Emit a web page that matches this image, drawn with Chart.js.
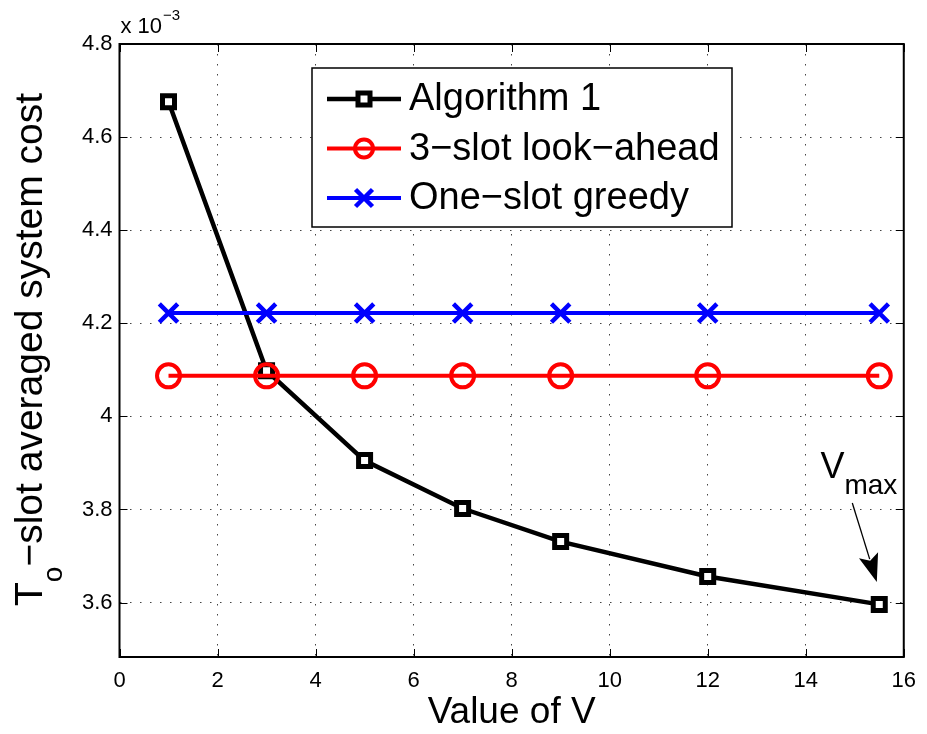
<!DOCTYPE html>
<html>
<head>
<meta charset="utf-8">
<script src="https://cdn.jsdelivr.net/npm/chart.js@4/dist/chart.umd.min.js"></script>
<style>
html,body{margin:0;padding:0;background:#fff;}
#wrap{width:927px;height:734px;}
</style>
</head>
<body>
<div id="wrap"><canvas id="c" width="927" height="734"></canvas></div>
<script>
// ---- data (y values in units of 1e-3) ----
const vValues = [1, 3, 5, 7, 9, 12, 15.5];
const costAlgorithm1 = [4.676, 4.098, 3.905, 3.802, 3.731, 3.656, 3.596];
const costLookAhead = [4.087, 4.087, 4.087, 4.087, 4.087, 4.087, 4.087];
const costGreedy = [4.222, 4.222, 4.222, 4.222, 4.222, 4.222, 4.222];
const seriesNames = ['Algorithm 1', '3\u2212slot look\u2212ahead', 'One\u2212slot greedy'];
const xTickValues = [0, 2, 4, 6, 8, 10, 12, 14, 16];
const yTickValues = [3.6, 3.8, 4.0, 4.2, 4.4, 4.6, 4.8];
// annotation anchor (data coordinates)
const vmaxLabelAt = {x: 14.3, y: 3.867};
const vmaxArrowFrom = {x: 14.95, y: 3.814};
const vmaxArrowTo = {x: 15.45, y: 3.644};

const FONT = "'Liberation Sans', Arial, Helvetica, sans-serif";
Chart.defaults.font.family = FONT;
Chart.defaults.color = '#000';

const pts = arr => vValues.map((v, i) => ({x: v, y: arr[i]}));

function drawMarker(ctx, style, x, y, r, color, lw, fill) {
  ctx.save();
  ctx.strokeStyle = color;
  ctx.lineWidth = lw;
  ctx.beginPath();
  if (style === 'rect') {
    const s = r / Math.SQRT2;
    ctx.rect(x - s, y - s, 2 * s, 2 * s);
    if (fill) { ctx.fillStyle = fill; ctx.fill(); }
    ctx.stroke();
  } else if (style === 'circle') {
    ctx.arc(x, y, r, 0, Math.PI * 2);
    ctx.stroke();
  } else if (style === 'crossRot') {
    const d = r * Math.SQRT1_2;
    ctx.moveTo(x - d, y - d); ctx.lineTo(x + d, y + d);
    ctx.moveTo(x - d, y + d); ctx.lineTo(x + d, y - d);
    ctx.stroke();
  }
  ctx.restore();
}

const decor = {
  id: 'decor',
  beforeDraw(chart) {
    const ctx = chart.ctx;
    ctx.save();
    ctx.fillStyle = '#fff';
    ctx.fillRect(0, 0, chart.width, chart.height);
    ctx.restore();
  },
  afterDraw(chart) {
    const ctx = chart.ctx;
    const a = chart.chartArea;
    const xs = chart.scales.x, ys = chart.scales.y;
    ctx.save();
    // inward tick marks on all four sides
    ctx.strokeStyle = '#000';
    ctx.lineWidth = 1;
    const tl = 8;
    ctx.beginPath();
    xTickValues.forEach(v => {
      const px = Math.round(xs.getPixelForValue(v)) + 0.5;
      ctx.moveTo(px, a.bottom); ctx.lineTo(px, a.bottom - tl);
      ctx.moveTo(px, a.top); ctx.lineTo(px, a.top + tl);
    });
    yTickValues.forEach(v => {
      const py = Math.round(ys.getPixelForValue(v)) + 0.5;
      ctx.moveTo(a.left, py); ctx.lineTo(a.left + tl, py);
      ctx.moveTo(a.right, py); ctx.lineTo(a.right - tl, py);
    });
    ctx.stroke();
    // frame
    ctx.lineWidth = 2;
    ctx.strokeRect(a.left, a.top, a.right - a.left, a.bottom - a.top);

    // multiplier
    ctx.fillStyle = '#000';
    ctx.textAlign = 'left';
    ctx.textBaseline = 'alphabetic';
    ctx.font = '22px ' + FONT;
    ctx.fillText('x 10', a.left + 1, 33);
    const w10 = ctx.measureText('x 10').width;
    ctx.font = '15px ' + FONT;
    ctx.fillText('\u22123', a.left + 1 + w10 + 1, 20);

    // x title
    ctx.font = '37px ' + FONT;
    ctx.textAlign = 'center';
    ctx.fillText('Value of V', (a.left + a.right) / 2, 723);

    // y title with subscript
    ctx.save();
    ctx.translate(42, 606);
    ctx.rotate(-Math.PI / 2);
    ctx.textAlign = 'left';
    ctx.font = '39px ' + FONT;
    ctx.fillText('T', 0, 0);
    let off = ctx.measureText('T').width;
    ctx.font = '28px ' + FONT;
    ctx.fillText('o', off, 20);
    off += ctx.measureText('o').width;
    ctx.font = '39px ' + FONT;
    ctx.fillText('\u2212slot averaged system cost', off, 0);
    ctx.restore();

    // V_max annotation
    const lx = xs.getPixelForValue(vmaxLabelAt.x), ly = ys.getPixelForValue(vmaxLabelAt.y);
    ctx.textAlign = 'left';
    ctx.font = '36px ' + FONT;
    ctx.fillText('V', lx, ly);
    const vw = ctx.measureText('V').width;
    ctx.font = '28px ' + FONT;
    ctx.fillText('max', lx + vw, ly + 16);
    const x0 = xs.getPixelForValue(vmaxArrowFrom.x), y0 = ys.getPixelForValue(vmaxArrowFrom.y);
    const x1 = xs.getPixelForValue(vmaxArrowTo.x), y1 = ys.getPixelForValue(vmaxArrowTo.y);
    const ang = Math.atan2(y1 - y0, x1 - x0);
    const hl = 28, hw = 10;
    const bx = x1 - hl * Math.cos(ang), by = y1 - hl * Math.sin(ang);
    ctx.strokeStyle = '#000';
    ctx.lineWidth = 1.3;
    ctx.beginPath(); ctx.moveTo(x0, y0); ctx.lineTo(bx + 4 * Math.cos(ang), by + 4 * Math.sin(ang)); ctx.stroke();
    ctx.beginPath();
    ctx.moveTo(x1, y1);
    ctx.lineTo(bx + hw * Math.sin(ang), by - hw * Math.cos(ang));
    ctx.lineTo(x1 - (hl * 0.8) * Math.cos(ang), y1 - (hl * 0.8) * Math.sin(ang));
    ctx.lineTo(bx - hw * Math.sin(ang), by + hw * Math.cos(ang));
    ctx.closePath();
    ctx.fillStyle = '#000';
    ctx.fill();

    // legend
    const L = {left: 312, top: 68, right: 732, bottom: 227};
    ctx.fillStyle = '#fff';
    ctx.fillRect(L.left, L.top, L.right - L.left, L.bottom - L.top);
    ctx.strokeStyle = '#000';
    ctx.lineWidth = 1.5;
    ctx.strokeRect(L.left, L.top, L.right - L.left, L.bottom - L.top);
    const rows = [99, 148.5, 198];
    const legR = [8.5, 9, 12];
    chart.data.datasets.forEach((ds, i) => {
      const y = rows[i];
      ctx.strokeStyle = ds.borderColor;
      ctx.lineWidth = ds.borderWidth;
      ctx.beginPath(); ctx.moveTo(327, y); ctx.lineTo(401, y); ctx.stroke();
      drawMarker(ctx, ds.pointStyle, 364, y, legR[i], ds.borderColor, ds.pointBorderWidth,
                 ds.pointStyle === 'rect' ? '#fff' : null);
      ctx.fillStyle = '#000';
      ctx.font = '38px ' + FONT;
      ctx.textAlign = 'left';
      ctx.textBaseline = 'middle';
      ctx.fillText(ds.label, 409, y + 1);
    });
    ctx.restore();
  }
};

new Chart(document.getElementById('c'), {
  type: 'line',
  data: {
    datasets: [
      {label: seriesNames[0], data: pts(costAlgorithm1), borderColor: '#000', borderWidth: 4.5,
       pointStyle: 'rect', pointRadius: 8.5, pointBorderWidth: 5, pointBackgroundColor: '#fff',
       pointBorderColor: '#000', order: 3, tension: 0},
      {label: seriesNames[1], data: pts(costLookAhead), borderColor: '#ff0000', borderWidth: 4,
       pointStyle: 'circle', pointRadius: 11.5, pointBorderWidth: 4, pointBackgroundColor: 'rgba(0,0,0,0)',
       pointBorderColor: '#ff0000', order: 2, tension: 0},
      {label: seriesNames[2], data: pts(costGreedy), borderColor: '#0000ff', borderWidth: 4,
       pointStyle: 'crossRot', pointRadius: 13, pointBorderWidth: 4.5,
       pointBorderColor: '#0000ff', order: 1, tension: 0}
    ]
  },
  options: {
    responsive: false,
    animation: false,
    events: [],
    layout: {padding: {left: 0, top: 44, right: 18, bottom: 0}},
    plugins: {legend: {display: false}, tooltip: {enabled: false}, title: {display: false}},
    scales: {
      x: {
        type: 'linear', min: 0, max: 16,
        afterBuildTicks: s => { s.ticks = xTickValues.map(v => ({value: v})); },
        afterFit: s => { s.height = 77; },
        ticks: {font: {size: 22}, padding: 11, maxRotation: 0, autoSkip: false,
                callback: v => String(v)},
        grid: {color: '#444', lineWidth: 1, drawTicks: false},
        border: {display: false, dash: [1.5, 8.5]}
      },
      y: {
        type: 'linear', min: 3.483, max: 4.8,
        afterBuildTicks: s => { s.ticks = yTickValues.map(v => ({value: v})); },
        afterFit: s => { s.width = 119.5; },
        ticks: {font: {size: 22}, padding: 7, autoSkip: false,
                callback: v => String(Number(v.toFixed(1)))},
        grid: {color: '#444', lineWidth: 1, drawTicks: false},
        border: {display: false, dash: [1.5, 8.5]}
      }
    }
  },
  plugins: [decor]
});
</script>
</body>
</html>
